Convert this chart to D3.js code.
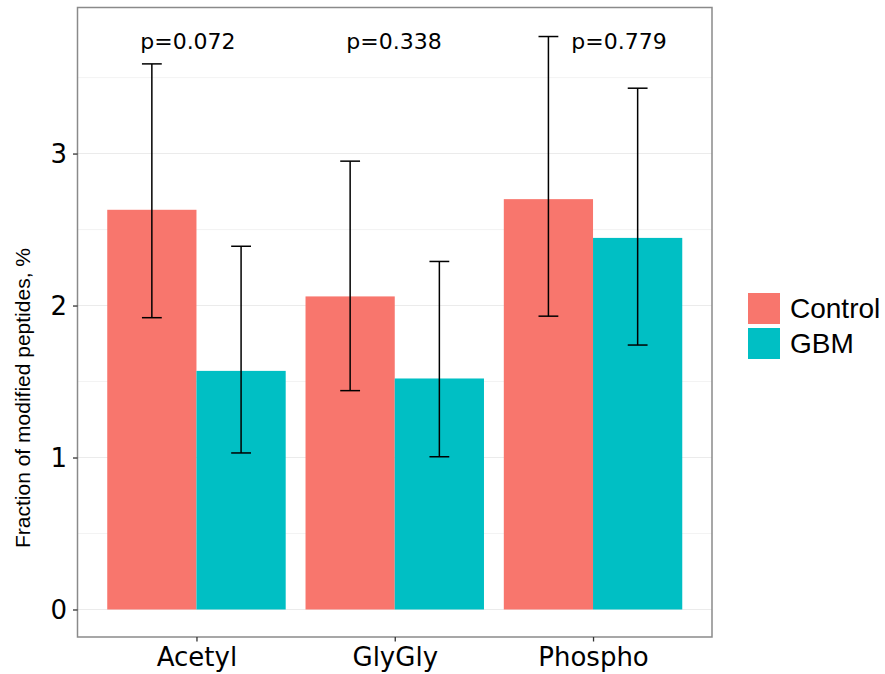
<!DOCTYPE html>
<html>
<head>
<meta charset="utf-8">
<script src="https://cdn.jsdelivr.net/npm/d3@7"></script>
<style>
  body { margin: 0; background: #fff; }
</style>
</head>
<body>
<div id="chart"></div>
<script>
const categories = ["Acetyl", "GlyGly", "Phospho"]
const groups = ["Control", "GBM"]
const controlMean = [2.63, 2.06, 2.70]
const controlLow = [1.92, 1.44, 1.93]
const controlHigh = [3.59, 2.95, 3.77]
const gbmMean = [1.57, 1.52, 2.445]
const gbmLow = [1.03, 1.005, 1.74]
const gbmHigh = [2.39, 2.29, 3.43]
const pLabels = ["p=0.072", "p=0.338", "p=0.779"]
const pLabelX = [0.957, 1.996, 3.131]
const pLabelY = 3.69
const yTicks = [0, 1, 2, 3]
const yMinor = [0.5, 1.5, 2.5, 3.5]
const colors = ["#F8766D", "#00BFC4"]

const width = 885
const height = 674
const panel = { left: 77.5, right: 712, top: 7.5, bottom: 637 }

const rows = []
categories.forEach((c, i) => {
  rows.push({ cat: c, i, g: 0, mean: controlMean[i], lo: controlLow[i], hi: controlHigh[i] })
  rows.push({ cat: c, i, g: 1, mean: gbmMean[i], lo: gbmLow[i], hi: gbmHigh[i] })
})

const x = d3.scaleLinear().domain([0.4, 3.6]).range([panel.left, panel.right])
const y = d3.scaleLinear().domain([-0.181, 3.961]).range([panel.bottom, panel.top])
const dodge = 0.225
const barW = x(0.45) - x(0)
const capW = x(0.1) - x(0)

const svg = d3.create("svg")
  .attr("viewBox", [0, 0, width, height])
  .attr("width", width)
  .attr("height", height)

// grid
svg.append("g")
  .selectAll("line")
  .data(yMinor)
  .join("line")
  .attr("x1", panel.left).attr("x2", panel.right)
  .attr("y1", d => y(d)).attr("y2", d => y(d))
  .attr("stroke", "#ebebeb").attr("stroke-width", 0.6)
svg.append("g")
  .selectAll("line")
  .data(yTicks)
  .join("line")
  .attr("x1", panel.left).attr("x2", panel.right)
  .attr("y1", d => y(d)).attr("y2", d => y(d))
  .attr("stroke", "#ebebeb").attr("stroke-width", 1.1)

// bars
svg.append("g")
  .selectAll("rect")
  .data(rows)
  .join("rect")
  .attr("x", d => d.g === 0 ? x(d.i + 1 - 2 * dodge) : x(d.i + 1))
  .attr("y", d => y(d.mean))
  .attr("width", barW)
  .attr("height", d => y(0) - y(d.mean))
  .attr("fill", d => colors[d.g])

// error bars
const eb = svg.append("g")
  .attr("stroke", "#000")
  .attr("stroke-width", 1.5)
  .selectAll("g")
  .data(rows)
  .join("g")
  .attr("transform", d => `translate(${x(d.i + 1 + (d.g === 0 ? -dodge : dodge))},0)`)
eb.append("line")
  .attr("y1", d => y(d.lo)).attr("y2", d => y(d.hi))
eb.append("line")
  .attr("x1", -capW / 2).attr("x2", capW / 2)
  .attr("y1", d => y(d.lo)).attr("y2", d => y(d.lo))
eb.append("line")
  .attr("x1", -capW / 2).attr("x2", capW / 2)
  .attr("y1", d => y(d.hi)).attr("y2", d => y(d.hi))

// p-values
svg.append("g")
  .selectAll("text")
  .data(pLabels)
  .join("text")
  .attr("x", (d, i) => x(pLabelX[i]))
  .attr("y", y(pLabelY))
  .attr("text-anchor", "middle")
  .attr("font-family", "DejaVu Sans")
  .attr("font-size", 22)
  .attr("fill", "#000")
  .text(d => d)

// panel border
svg.append("rect")
  .attr("x", panel.left).attr("y", panel.top)
  .attr("width", panel.right - panel.left)
  .attr("height", panel.bottom - panel.top)
  .attr("fill", "none")
  .attr("stroke", "#8a8a8a")
  .attr("stroke-width", 1.5)

// y axis
const yAxis = d3.axisLeft(y).tickValues(yTicks).tickSize(4.5).tickPadding(6).tickFormat(d3.format("d"))
svg.append("g")
  .attr("transform", `translate(${panel.left},0)`)
  .call(yAxis)
  .call(g => g.select(".domain").remove())
  .call(g => g.selectAll(".tick line").attr("stroke", "#333").attr("stroke-width", 1.3))
  .call(g => g.selectAll(".tick text")
    .attr("font-family", "DejaVu Sans").attr("font-size", 26).attr("fill", "#000")
    .attr("dy", "0.36em"))

// x axis
const xAxis = d3.axisBottom(x).tickValues([1, 2, 3]).tickSize(4.5).tickPadding(6)
  .tickFormat(d => categories[d - 1])
svg.append("g")
  .attr("transform", `translate(0,${panel.bottom})`)
  .call(xAxis)
  .call(g => g.select(".domain").remove())
  .call(g => g.selectAll(".tick line").attr("stroke", "#333").attr("stroke-width", 1.3))
  .call(g => g.selectAll(".tick text")
    .attr("font-family", "DejaVu Sans").attr("font-size", 26).attr("fill", "#000")
    .attr("dy", "0.71em"))

// y title
svg.append("text")
  .attr("transform", `translate(30,398) rotate(-90)`)
  .attr("text-anchor", "middle")
  .attr("font-family", "Liberation Sans")
  .attr("font-size", 21)
  .attr("fill", "#000")
  .text("Fraction of modified peptides, %")

// legend
const legend = svg.append("g")
  .selectAll("g")
  .data(groups)
  .join("g")
  .attr("transform", (d, i) => `translate(748,${293 + i * 35})`)
legend.append("rect")
  .attr("width", 32).attr("height", 31)
  .attr("fill", (d, i) => colors[i])
legend.append("text")
  .attr("x", 42).attr("y", 25)
  .attr("font-family", "Liberation Sans")
  .attr("font-size", 28)
  .attr("fill", "#000")
  .text(d => d)

document.querySelector("#chart").append(svg.node())
</script>
</body>
</html>
